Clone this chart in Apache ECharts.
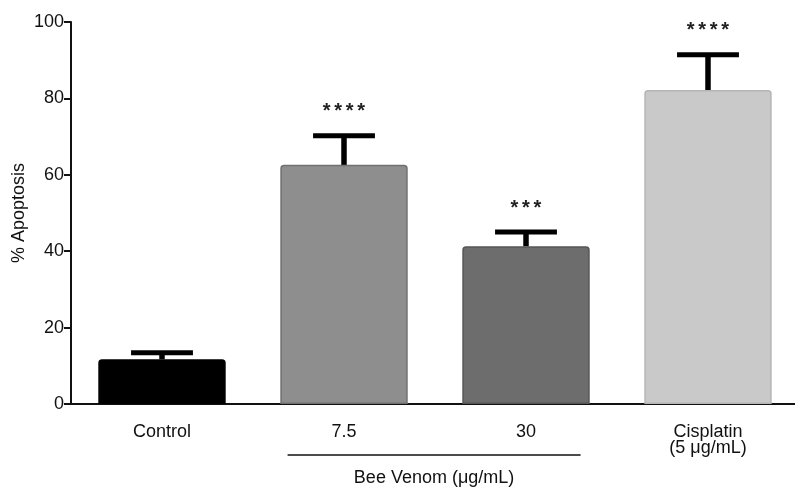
<!DOCTYPE html>
<html>
<head>
<meta charset="utf-8">
<script src="https://cdn.jsdelivr.net/npm/echarts@6/dist/echarts.min.js"></script>
<style>
html,body{margin:0;padding:0;background:#fff;}
#chart{width:795px;height:489px;}
</style>
</head>
<body>
<div id="chart"></div>
<script>
const categories = ['Control', '7.5', '30', 'Cisplatin\n(5 μg/mL)'];
const apoptosis = [11.7, 62.6, 41.3, 82.2];
const errorUpper = [13.4, 70.2, 45.0, 91.4];
const significance = ['', '****', '***', '****'];
const barColors = ['#000000', '#8e8e8e', '#6d6d6d', '#c9c9c9'];
const borderColors = ['#000000', '#707070', '#555555', '#b5b5b5'];
const yTicks = [0, 20, 40, 60, 80, 100];
const groupLabel = 'Bee Venom (μg/mL)';
const groupMembers = [1, 2];

const FONT = '"Liberation Sans", Arial, Helvetica, sans-serif';
const chart = echarts.init(document.getElementById('chart'), null, {renderer: 'canvas'});

const option = {
  animation: false,
  backgroundColor: '#ffffff',
  grid: {left: 71, top: 22, width: 728, height: 382, containLabel: false, outerBoundsMode: 'none'},
  xAxis: {
    type: 'category',
    data: categories,
    axisLine: {lineStyle: {color: '#111', width: 2}},
    axisTick: {show: false},
    axisLabel: {
      color: '#111', fontFamily: FONT, fontSize: 18, margin: 20, lineHeight: 16,
      interval: 0
    }
  },
  yAxis: {
    type: 'value',
    min: 0, max: 100, interval: 20,
    name: '% Apoptosis',
    nameLocation: 'middle',
    nameGap: 43,
    nameMoveOverlap: false,
    nameTextStyle: {color: '#111', fontFamily: FONT, fontSize: 18},
    splitLine: {show: false},
    axisLine: {show: true, lineStyle: {color: '#111', width: 2}},
    axisTick: {show: true, length: 7, lineStyle: {color: '#111', width: 2}},
    axisLabel: {color: '#111', fontFamily: FONT, fontSize: 18, margin: 7,
      formatter: v => yTicks.includes(v) ? String(v) : ''}
  },
  series: [
    {
      type: 'bar',
      barWidth: '70%',
      data: apoptosis.map((v, i) => ({
        value: v,
        itemStyle: {color: barColors[i], borderColor: borderColors[i], borderWidth: 1.5, borderRadius: [3, 3, 0, 0]}
      })),
      z: 2
    },
    {
      type: 'custom',
      data: apoptosis.map((v, i) => [i, v, errorUpper[i]]),
      z: 3,
      renderItem: function (params, api) {
        const i = api.value(0);
        const base = api.coord([i, api.value(1)]);
        const top = api.coord([i, api.value(2)]);
        const bw = api.size([1, 0])[0];
        const capHalf = bw * 0.17;
        const children = [
          {type: 'line', shape: {x1: base[0], y1: base[1], x2: top[0], y2: top[1]},
            style: {stroke: '#000', lineWidth: 5.5}},
          {type: 'line', shape: {x1: top[0] - capHalf, y1: top[1], x2: top[0] + capHalf, y2: top[1]},
            style: {stroke: '#000', lineWidth: 5}}
        ];
        const s = significance[i];
        const n = s.length, step = 11.5;
        for (let k = 0; k < n; k++) {
          children.push({type: 'text', x: top[0] + (k - (n - 1) / 2) * step, y: top[1] - 24,
            style: {text: '*', fontSize: 20, fontWeight: 'bold', fontFamily: FONT, fill: '#222',
              align: 'center', verticalAlign: 'middle'}});
        }
        return {type: 'group', children: children};
      }
    }
  ]
};
chart.setOption(option);

// group bracket under the Bee Venom categories
const a = chart.convertToPixel({gridIndex: 0}, [groupMembers[0], 0]);
const b = chart.convertToPixel({gridIndex: 0}, [groupMembers[1], 0]);
const band = chart.convertToPixel({gridIndex: 0}, [1, 0])[0] - chart.convertToPixel({gridIndex: 0}, [0, 0])[0];
const x1 = a[0] - band * 0.31, x2 = b[0] + band * 0.30;
chart.setOption({
  graphic: [
    {type: 'line', shape: {x1: x1, y1: a[1] + 51, x2: x2, y2: a[1] + 51}, style: {stroke: '#111', lineWidth: 1.5}},
    {type: 'text', x: (x1 + x2) / 2, y: a[1] + 74,
      style: {text: groupLabel, fontSize: 18, fontFamily: FONT, fill: '#111', align: 'center', verticalAlign: 'middle'}}
  ]
});
</script>
</body>
</html>
